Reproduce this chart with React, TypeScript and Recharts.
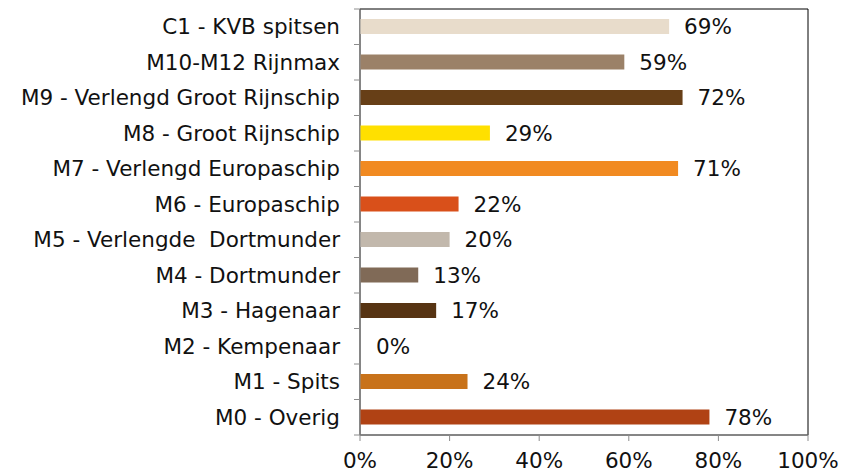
import React from 'react';
import { BarChart, Bar, XAxis, YAxis, Cell, LabelList, ReferenceArea } from 'recharts';

const categories = [
  'C1 - KVB spitsen',
  'M10-M12 Rijnmax',
  'M9 - Verlengd Groot Rijnschip',
  'M8 - Groot Rijnschip',
  'M7 - Verlengd Europaschip',
  'M6 - Europaschip',
  'M5 - Verlengde  Dortmunder',
  'M4 - Dortmunder',
  'M3 - Hagenaar',
  'M2 - Kempenaar',
  'M1 - Spits',
  'M0 - Overig',
];
const values = [69, 59, 72, 29, 71, 22, 20, 13, 17, 0, 24, 78];
const colors = [
  '#E8DCCB', '#9B8168', '#673F17', '#FFE000', '#F18A21', '#D9501A',
  '#C2B8AC', '#806A57', '#573413', 'transparent', '#C8721A', '#B04214',
];
const xTicks = [0, 20, 40, 60, 80, 100];

const data = categories.map((name, i) => ({ name, value: values[i] }));

const FONT = '"DejaVu Sans", Verdana, sans-serif';
const FONT_SIZE = 21.5;
const AXIS_GREY = '#8c8c8c';

const W = 851;
const H = 475;
const TOP = 9;
const X_AXIS_H = 40;
const HALF_BAND = (H - TOP - X_AXIS_H) / categories.length / 2;

const CategoryTick = (props: any) => {
  const { x, y, payload, index } = props;
  const axisX = x + 20;
  return (
    <g>
      <text
        x={x}
        y={y}
        dy="0.36em"
        textAnchor="end"
        fontSize={FONT_SIZE}
        fontFamily={FONT}
        fill="#111"
        style={{ whiteSpace: 'pre' }}
      >
        {payload.value}
      </text>
      <line x1={axisX - 6} x2={axisX} y1={y - HALF_BAND} y2={y - HALF_BAND} stroke={AXIS_GREY} />
      {index === categories.length - 1 && (
        <line x1={axisX - 6} x2={axisX} y1={y + HALF_BAND} y2={y + HALF_BAND} stroke={AXIS_GREY} />
      )}
    </g>
  );
};

export default function App() {
  return (
    <div style={{ position: 'absolute', left: 0, top: 0, width: W, height: H, background: '#fff' }}>
      <BarChart
        width={W}
        height={H}
        data={data}
        layout="vertical"
        margin={{ top: TOP, right: 43, left: 0, bottom: 0 }}
      >
        <ReferenceArea x1={0} x2={100} fill="none" stroke="#000" strokeWidth={1} ifOverflow="visible" />
        <XAxis
          type="number"
          domain={[0, 100]}
          ticks={xTicks}
          tickFormatter={(v: number) => `${v}%`}
          stroke={AXIS_GREY}
          height={X_AXIS_H}
          tickSize={6}
          tickMargin={12}
          tick={{ fontSize: FONT_SIZE, fontFamily: FONT, fill: '#111' }}
          interval={0}
        />
        <YAxis
          type="category"
          dataKey="name"
          width={360}
          stroke={AXIS_GREY}
          tickLine={false}
          tickSize={0}
          tickMargin={20}
          interval={0}
          tick={<CategoryTick />}
        />
        <Bar dataKey="value" barSize={15} minPointSize={1} isAnimationActive={false}>
          {data.map((d, i) => (
            <Cell key={d.name} fill={colors[i]} />
          ))}
          <LabelList
            dataKey="value"
            position="right"
            offset={15}
            formatter={(v: number) => `${v}%`}
            style={{ fontSize: FONT_SIZE, fontFamily: FONT, fill: '#111' }}
          />
        </Bar>
      </BarChart>
    </div>
  );
}
